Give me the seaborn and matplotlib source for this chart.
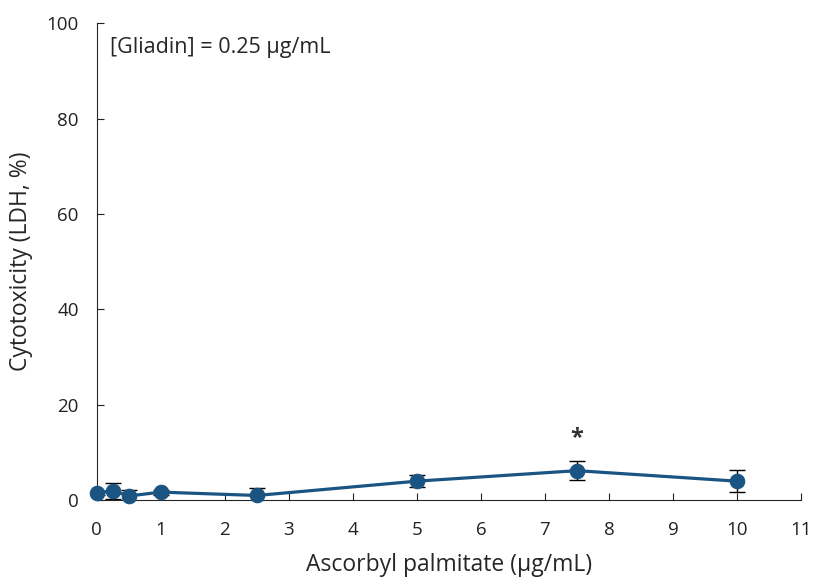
import numpy as np
import pandas as pd
import matplotlib
matplotlib.use("Agg")
import matplotlib.pyplot as plt
import seaborn as sns

# 数据
concentration = [0, 0.25, 0.5, 1, 2.5, 5, 7.5, 10]
cytotoxicity = [1.5, 2.0, 0.9, 1.7, 1.0, 4.0, 6.2, 4.0]
sem = [0.4, 1.7, 1.3, 0.5, 1.6, 1.2, 2.0, 2.3]
xticks = list(range(0, 12))
yticks = [0, 20, 40, 60, 80, 100]

df = pd.DataFrame({"conc": concentration, "cyto": cytotoxicity, "sem": sem})

sns.set_style("ticks")
plt.rcParams["font.family"] = ["Open Sans", "DejaVu Sans"]

color = "#1a5482"
fig = plt.figure(figsize=(8.14, 5.81), dpi=100)
ax = fig.add_axes([0.119, 0.139, 0.865, 0.821])

# 误差线（低于0的部分被坐标轴裁掉）
ax.errorbar(df["conc"], df["cyto"], yerr=df["sem"], fmt="none",
            ecolor="black", elinewidth=1, capsize=5.5, capthick=1, zorder=2)
sns.lineplot(data=df, x="conc", y="cyto", ax=ax, color=color, linewidth=2.3,
             marker="o", markersize=10.5, markeredgecolor=color, zorder=3,
             clip_on=False)

# 显著性标记
ax.text(7.5, 10.5, "*", ha="center", va="bottom", fontsize=17,
        fontweight="bold", color="#333333")
ax.text(0.2, 95, "[Gliadin] = 0.25 μg/mL", ha="left", va="center", fontsize=15.5)

ax.set_xlim(0, 11)
ax.set_ylim(0, 100)
ax.set_xticks(xticks)
ax.set_yticks(yticks)
ax.tick_params(direction="in", length=5, labelsize=13.5, colors="#222222")
ax.tick_params(axis="x", pad=15)
ax.tick_params(axis="y", pad=13)
ax.set_xlabel("Ascorbyl palmitate (μg/mL)", fontsize=16.5, labelpad=10)
ax.set_ylabel("Cytotoxicity (LDH, %)", fontsize=16.5, labelpad=10)
sns.despine(ax=ax)

fig.savefig("out.png", dpi=100)
